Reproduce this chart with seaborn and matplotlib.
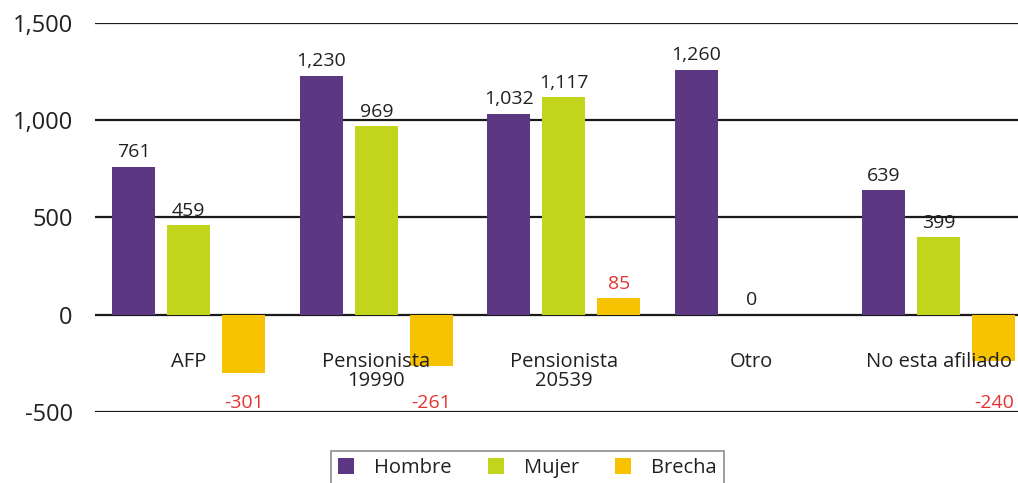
import numpy as np
import pandas as pd
import matplotlib
matplotlib.use("Agg")
import matplotlib.pyplot as plt
import seaborn as sns

# Data
categories = ["AFP", "Pensionista\n19990", "Pensionista\n20539", "Otro", "No esta afiliado"]
hombre = [761, 1230, 1032, 1260, 639]
mujer = [459, 969, 1117, 0, 399]
brecha = [-301, -261, 85, np.nan, -240]
series_names = ["Hombre", "Mujer", "Brecha"]
ytick_values = [-500, 0, 500, 1000, 1500]
ytick_labels = ["-500", "0", "500", "1,000", "1,500"]

colors = {"Hombre": "#5c3883", "Mujer": "#c2d41b", "Brecha": "#f7c300"}
text_color = "#231f20"
red = "#e3342f"

rows = []
for name, vals in zip(series_names, [hombre, mujer, brecha]):
    for cat, v in zip(categories, vals):
        rows.append({"categoria": cat, "serie": name, "valor": v})
df = pd.DataFrame(rows).dropna()

sns.set_theme(style="white")
plt.rcParams["font.family"] = ["Open Sans", "DejaVu Sans"]

fig = plt.figure(figsize=(10.18, 4.83), dpi=100)
ax = fig.add_axes([0.0933, 0.147, 0.921, 0.8054])

sns.barplot(data=df, x="categoria", y="valor", hue="serie",
            order=categories, hue_order=series_names, palette=colors,
            width=0.88, gap=0.215, errorbar=None, saturation=1,
            linewidth=0, edgecolor="none",
            legend=True, ax=ax, zorder=3)

ax.set_ylim(-500, 1500)
ax.set_xlim(-0.5, 4.5)
ax.set_yticks(ytick_values)
ax.set_yticklabels(ytick_labels)
ax.tick_params(axis="y", length=0, pad=16, labelsize=17, labelcolor=text_color)
ax.tick_params(axis="x", length=0, labelbottom=False)
ax.set_xlabel("")
ax.set_ylabel("")
for s in ax.spines.values():
    s.set_visible(False)
ax.yaxis.grid(True, color="#1a1a1a", linewidth=1.6)
ax.set_axisbelow(True)

label_size = 14

# Value labels
for name, container in zip(series_names, ax.containers):
    for bar in container:
        h = bar.get_height()
        if np.isnan(h):
            continue
        xc = bar.get_x() + bar.get_width() / 2
        label = f"{h:,.0f}"
        if name == "Brecha":
            if h >= 0:
                ax.annotate(label, (xc, h), xytext=(0, 4), textcoords="offset points",
                            ha="center", va="bottom", fontsize=label_size, color=red)
            else:
                ax.text(xc, -452, label, ha="center", va="center",
                        fontsize=label_size, color=red)
        else:
            ax.annotate(label, (xc, h), xytext=(0, 4), textcoords="offset points",
                        ha="center", va="bottom", fontsize=label_size, color=text_color)

# Category labels inside the plot area
for i, cat in enumerate(categories):
    ax.text(i, -194, cat, ha="center", va="top", fontsize=14.5,
            color=text_color, linespacing=0.92)

# Legend
handles, labels = ax.get_legend_handles_labels()
ax.legend(handles, labels, loc="upper center", bbox_to_anchor=(0.518, 0.066),
          bbox_transform=fig.transFigure, ncol=3, frameon=True, fancybox=False,
          edgecolor="#707070", fontsize=14.5, handlelength=0.8, handleheight=0.8,
          columnspacing=1.8, handletextpad=1.0, borderpad=0.35, borderaxespad=0,
          labelcolor=text_color)
ax.get_legend().get_frame().set_linewidth(1.2)

fig.savefig("out.png", dpi=100)
